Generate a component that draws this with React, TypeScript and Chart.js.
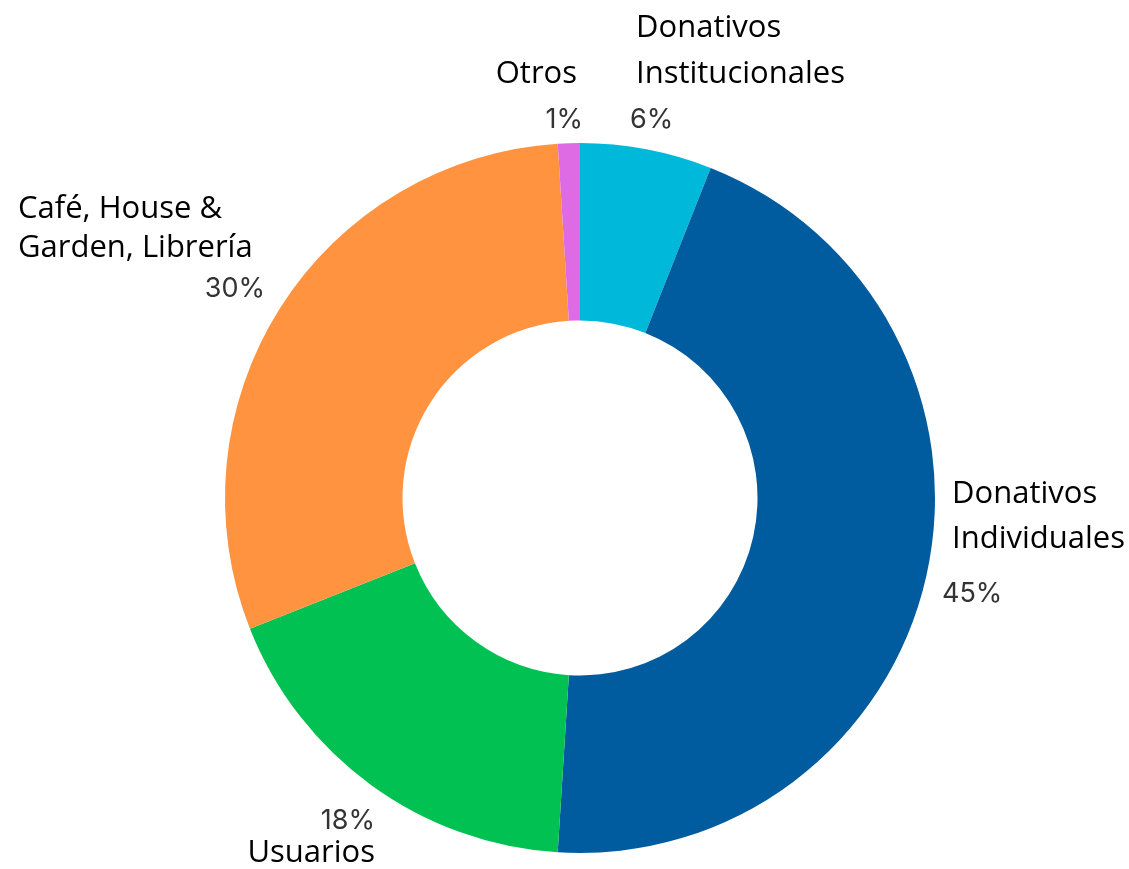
import React, { useEffect, useRef } from "react";
import { Chart, registerables } from "chart.js";

Chart.register(...registerables);

const categories = [
  "Donativos Institucionales",
  "Donativos Individuales",
  "Usuarios",
  "Café, House & Garden, Librería",
  "Otros",
];
const values = [6, 45, 18, 30, 1];
const percentLabels = ["6%", "45%", "18%", "30%", "1%"];
const nameLines = [
  ["Donativos", "Institucionales"],
  ["Donativos", "Individuales"],
  ["Usuarios"],
  ["Café, House &", "Garden, Librería"],
  ["Otros"],
];
const colors = ["#00B9DA", "#005C9E", "#00C152", "#FF9340", "#DE6BE4"];

// label layout relative to the doughnut centre (pixels)
type Layout = {
  nx: number; ny: number; lh: number; na: CanvasTextAlign;
  px: number; py: number; pa: CanvasTextAlign;
};
const layouts: Layout[] = [
  { nx: 56, ny: -461, lh: 46, na: "left", px: 50, py: -370, pa: "left" },
  { nx: 372, ny: 5, lh: 45, na: "left", px: 362, py: 104, pa: "left" },
  { nx: -205, ny: 364, lh: 40, na: "right", px: -205, py: 331, pa: "right" },
  { nx: -562, ny: -280, lh: 39, na: "left", px: -315, py: -201, pa: "right" },
  { nx: -3, ny: -415, lh: 40, na: "right", px: 3, py: -370, pa: "right" },
];

const labelPlugin = {
  id: "outerLabels",
  afterDatasetsDraw(chart: any) {
    const meta = chart.getDatasetMeta(0);
    const ctx = chart.ctx as CanvasRenderingContext2D;
    ctx.save();
    meta.data.forEach((arc: any, i: number) => {
      const cx = arc.x;
      const cy = arc.y;
      const L = layouts[i];
      ctx.textBaseline = "alphabetic";
      ctx.fillStyle = "#000000";
      ctx.font = "31px 'Open Sans'";
      ctx.textAlign = L.na;
      nameLines[i].forEach((line, j) => {
        ctx.fillText(line, cx + L.nx, cy + L.ny + j * L.lh);
      });
      ctx.fillStyle = "#333333";
      ctx.font = "27px Inter";
      ctx.textAlign = L.pa;
      ctx.fillText(percentLabels[i], cx + L.px, cy + L.py);
    });
    ctx.restore();
  },
};

export default function App() {
  const ref = useRef<HTMLCanvasElement>(null);
  useEffect(() => {
    document.body.style.margin = "0";
    const chart = new Chart(ref.current!, {
      type: "doughnut",
      data: {
        labels: categories,
        datasets: [
          {
            data: values,
            backgroundColor: colors,
            borderWidth: 0,
          },
        ],
      },
      options: {
        animation: false,
        responsive: false,
        cutout: "50%",
        layout: { padding: { top: 143, bottom: 16, left: 225, right: 194 } },
        plugins: { legend: { display: false }, tooltip: { enabled: false } },
      },
      plugins: [labelPlugin],
    });
    return () => chart.destroy();
  }, []);
  return (
    <div style={{ width: 1129, height: 869, background: "#fff" }}>
      <canvas ref={ref} width={1129} height={869} />
    </div>
  );
}
